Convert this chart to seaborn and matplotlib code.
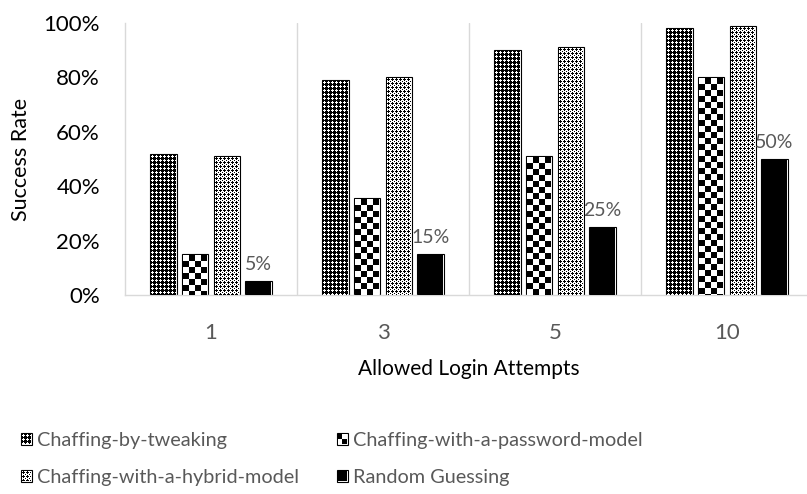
import numpy as np
import pandas as pd
import seaborn as sns
import matplotlib.pyplot as plt
from matplotlib.patches import Patch

attempts = ["1", "3", "5", "10"]
series = ["Chaffing-by-tweaking", "Chaffing-with-a-password-model",
          "Chaffing-with-a-hybrid-model", "Random Guessing"]
tweaking = [0.52, 0.79, 0.90, 0.98]
password_model = [0.15, 0.355, 0.51, 0.80]
hybrid_model = [0.51, 0.80, 0.91, 0.99]
random_guess = [0.05, 0.15, 0.25, 0.50]

df = pd.DataFrame({
    "attempts": attempts * 4,
    "series": [s for s in series for _ in attempts],
    "rate": tweaking + password_model + hybrid_model + random_guess,
})

# small pixel tiles for the fill patterns (1 = black)
plus_a = np.zeros((4, 4))
plus_a[1, 1] = plus_a[0, 1] = plus_a[2, 1] = plus_a[1, 0] = plus_a[1, 2] = 1
tile_tweak = 1 - plus_a
tile_hybrid = plus_a.copy()
tile_hybrid[3, 3] = 1


def make_fill(kind, w, h):
    if kind == "solid":
        return np.ones((h, w))
    if kind == "checker":
        c = max(w / 4.0, 1)
        yy, xx = np.mgrid[0:h, 0:w]
        return ((np.floor(xx / c) + np.floor(yy / c)) % 2 == 1).astype(float)
    tile = tile_tweak if kind == "tweak" else tile_hybrid
    reps = (h // 4 + 1, w // 4 + 1)
    return np.tile(tile, reps)[:h, :w]


kinds = {series[0]: "tweak", series[1]: "checker",
         series[2]: "hybrid", series[3]: "solid"}

sns.set_style("white")
plt.rcParams['font.family'] = ['Lato', 'DejaVu Sans']

fig = plt.figure(figsize=(8.07, 4.94), dpi=100)
ax = fig.add_axes([125 / 807, 199 / 494, 688 / 807, 272 / 494])

sns.barplot(data=df, x="attempts", y="rate", hue="series", ax=ax,
            palette=["white"] * 4, edgecolor="black", linewidth=0.8,
            width=0.735, gap=0.17, legend=False)

ax.set_ylim(0, 1)
ax.set_xlim(-0.5, 3.5)
ax.set_yticks([0, 0.2, 0.4, 0.6, 0.8, 1.0])
ax.set_yticklabels(["0%", "20%", "40%", "60%", "80%", "100%"])
ax.tick_params(axis="y", length=0, pad=18, labelsize=16, labelcolor="#000000")
ax.tick_params(axis="x", length=0, pad=20, labelsize=16, labelcolor="#595959")
ax.set_ylabel("Success Rate", fontsize=15.5, color="#000000", labelpad=9)
ax.set_xlabel("Allowed Login Attempts", fontsize=15, color="#000000", labelpad=12)

for side in ["top", "right"]:
    ax.spines[side].set_visible(False)
for side in ["left", "bottom"]:
    ax.spines[side].set_color("#d9d9d9")
    ax.spines[side].set_linewidth(1)
for xb in [0.5, 1.5, 2.5]:
    ax.axvline(xb, color="#d9d9d9", linewidth=1, zorder=0)

# data labels on random guessing bars
ax.bar_label(ax.containers[3], labels=["5%", "15%", "25%", "50%"],
             padding=6, fontsize=14, color="#595959")

fig.canvas.draw()

for s, cont in zip(series, ax.containers):
    for bar in cont:
        bb = bar.get_window_extent()
        x0, y0 = int(round(bb.x0)) + 1, int(round(bb.y0))
        x1, y1 = int(round(bb.x1)) - 1, int(round(bb.y1)) - 1
        w, h = x1 - x0, y1 - y0
        if w <= 0 or h <= 0:
            continue
        img = make_fill(kinds[s], w, h)
        fig.figimage(1 - img, xo=x0, yo=y0, cmap="gray", vmin=0, vmax=1,
                     origin="upper", zorder=3)

leg_order = [series[0], series[2], series[1], series[3]]
handles = [Patch(facecolor="white", edgecolor="black", linewidth=0.8, label=s)
           for s in leg_order]
leg = fig.legend(handles=handles, ncol=2, loc="lower left",
                 bbox_to_anchor=(21 / 807, 8 / 494), frameon=False,
                 fontsize=14.3, handlelength=0.55, handleheight=0.55,
                 handletextpad=0.25, columnspacing=1.9, labelspacing=1.0,
                 borderpad=0, borderaxespad=0, labelcolor="#595959")
fig.canvas.draw()
for p, s in zip(leg.get_patches(), leg_order):
    bb = p.get_window_extent()
    x0, y0 = int(round(bb.x0)) + 1, int(round(bb.y0)) + 1
    x1, y1 = int(round(bb.x1)) - 1, int(round(bb.y1)) - 1
    w, h = x1 - x0, y1 - y0
    kind = kinds[s]
    if kind == "checker":
        img = np.zeros((h, w))
        img[: h // 2, : w // 2] = 1
        img[h // 2:, w // 2:] = 1
    else:
        img = make_fill(kind, w, h)
    fig.figimage(1 - img, xo=x0, yo=y0, cmap="gray", vmin=0, vmax=1,
                 origin="upper", zorder=6)

plt.savefig("out.png", dpi=100)
plt.close()
